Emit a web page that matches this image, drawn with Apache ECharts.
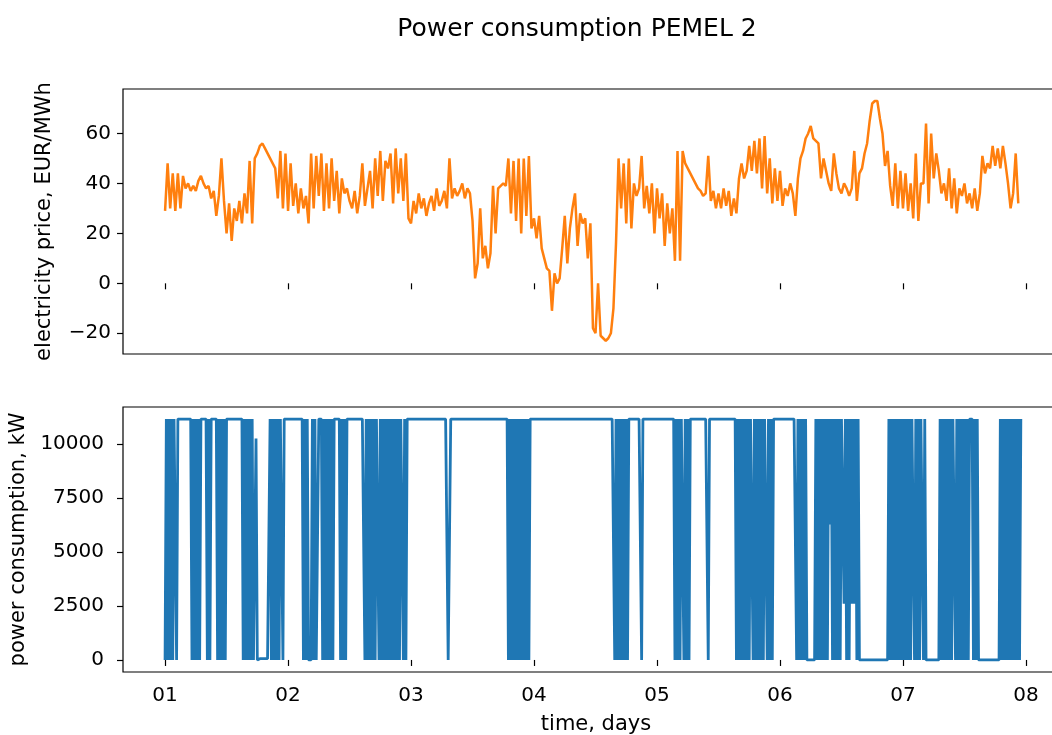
<!DOCTYPE html>
<html>
<head>
<meta charset="utf-8">
<script src="https://cdn.jsdelivr.net/npm/echarts@6/dist/echarts.min.js"></script>
<style>
html,body{margin:0;padding:0;background:#fff;overflow:hidden;width:1052px;height:735px;}
#chart{width:1100px;height:735px;}
</style>
</head>
<body>
<div id="chart"></div>
<script>
// ---- tick labels / categories ----
const dayTicks = [1, 2, 3, 4, 5, 6, 7, 8];
const dayTickLabels = ['01', '02', '03', '04', '05', '06', '07', '08'];
const priceTicks = [-20, 0, 20, 40, 60];
const powerTicks = [0, 2500, 5000, 7500, 10000];

// ---- electricity price, EUR/MWh (30-min values, one array per day) ----
const priceDay1 = [29,48,30,44, 29,44,30,43, 38,40,37,39, 37,41,43,40, 38,39,34,37, 27,35,50,33, 20,32,17,30, 25,33,24,36, 28,49,24,50, 52,55,56,54, 52,50,48,46, 34,53,30,52];
const priceDay2 = [29,48,31,40, 28,38,30,35, 24,52,30,51, 35,52,29,48, 30,50,33,45, 28,42,36,38, 33,30,37,28, 35,48,31,38, 45,30,50,35, 53,33,49,46, 52,32,54,36, 50,33,52,26];
const priceDay3 = [24,33,28,36, 30,34,27,32, 35,29,38,31, 33,37,30,50, 34,38,35,37, 40,34,38,36, 25,2,8,30, 10,15,6,12, 39,20,38,39, 40,39,50,28, 49,25,50,20, 50,27,51,22];
const priceDay4 = [26,18,27,14, 10,6,5,-11, 4,0,2,14, 27,8,22,30, 36,15,28,24, 26,10,24,-18, -20,0,-21,-22, -23,-22,-20,-10, 16,50,30,48, 24,50,22,40, 35,38,51,30, 39,28,40,20];
const priceDay5 = [38,26,36,15, 32,20,30,9, 53,9,53,48, 46,44,42,40, 38,37,35,36, 51,33,37,30, 36,30,38,31, 37,27,34,28, 42,48,42,45, 55,45,57,44, 58,38,59,36, 50,32,46,33];
const priceDay6 = [45,31,38,35, 40,36,27,42, 50,53,58,60, 63,58,57,56, 42,50,45,40, 37,52,44,38, 36,40,38,35, 38,53,33,44, 46,52,56,65, 72,73,73,66, 60,47,53,39, 31,48,30,45];
const priceDay7 = [30,44,29,40, 26,52,25,40, 40,64,32,60, 42,52,45,36, 40,33,46,30, 42,28,38,35, 40,32,36,30, 38,29,36,51, 44,48,46,55, 47,54,46,55, 48,40,30,36, 52,32];

// ---- power consumption (15-min states, one string per day) ----
// '1' = 11150 kW, '0' = 0 kW, 'b' = 10250 kW, 'm' = 6270 kW, 'q' = 2600 kW, 'l' = 60 kW
const powerLevels = {'1': 11150, '0': 0, 'b': 10250, 'm': 6270, 'q': 2600, 'l': 60};
const powerDay1 = '0101010110' + '11111111111' + '01010101' + '1111' + '0101' + '1111' + '01010101' + '111111111111' + '010101010' + '0b0' + 'lllllllll' + '101010101101' + '11';
const powerDay2 = '111111111111' + '0101000101001' + '11' + '0101010101' + '1111' + '010101' + '1111111111111' + '0101010101' + '1010101010' + '1010101011' + '010' + '111';
const powerDay3 = '11111111111111111111111111111' + '00' + '111111111111111111111111111111111111111111111' + '01010101010101010' + '111';
const powerDay4 = '111111111111111111111111111111111111111111111111111111111111111' + '010101010101' + '111111111' + '0' + '11111111111';
const powerDay5 = '11111111111111' + '0101011010101' + '1111111111111' + '0' + '111111111111111111111' + '0101010101' + '0110101010' + '101101010' + '11111';
const powerDay6 = '1111111111111' + '010101010' + '000000' + '1010101010' + '1m' + '101010101' + '1q10101q1q101' + '00000000000000000000000' + '10101010101';
const powerDay7 = '0101010110101011010' + '0000000000' + '10101010101101010101010' + '11101010' + '0000000000000000' + '10101010101010101';

const priceDays = [priceDay1, priceDay2, priceDay3, priceDay4, priceDay5, priceDay6, priceDay7];
const powerDays = [powerDay1, powerDay2, powerDay3, powerDay4, powerDay5, powerDay6, powerDay7];

const priceData = [];
priceDays.forEach((arr, d) => arr.forEach((v, j) => priceData.push([1 + d + j / 48, v])));
const powerData = [];
powerDays.forEach((s, d) => s.split('').forEach((c, k) => powerData.push([1 + d + k / 96, powerLevels[c]])));

const FONT = 'DejaVu Sans';
const TXT = '#000';
const FS = 20;
const X_MIN = 0.658, X_MAX = 8.35;
const fmtNum = v => String(v).replace('-', '\u2212');

function xAxisCfg(idx, showLabels) {
  return {
    type: 'value', gridIndex: idx, min: X_MIN, max: X_MAX,
    axisLine: {show: false},
    splitLine: {show: false},
    axisTick: {show: true, inside: false, length: 6, customValues: dayTicks, lineStyle: {color: '#000', width: 1.2}},
    axisLabel: {show: showLabels, customValues: dayTicks, margin: 14, color: TXT, fontFamily: FONT, fontSize: FS,
      formatter: v => dayTickLabels[dayTicks.indexOf(Math.round(v))] || ''},
    name: showLabels ? 'time, days' : '',
    nameLocation: 'middle', nameGap: 42,
    nameTextStyle: {color: TXT, fontFamily: FONT, fontSize: 21}
  };
}

const option = {
  animation: false,
  backgroundColor: '#fff',
  title: {
    text: 'Power consumption PEMEL 2',
    left: 572, top: 12, textAlign: 'center',
    textStyle: {color: TXT, fontFamily: FONT, fontSize: 25, fontWeight: 'normal'}
  },
  grid: [
    {left: 123, top: 89, width: 946, height: 265, show: true, borderColor: '#000', borderWidth: 1.2, backgroundColor: 'transparent', outerBoundsMode: 'none', containLabel: false},
    {left: 123, top: 407, width: 946, height: 265, show: true, borderColor: '#000', borderWidth: 1.2, backgroundColor: 'transparent', outerBoundsMode: 'none', containLabel: false}
  ],
  xAxis: [xAxisCfg(0, false), xAxisCfg(1, true)],
  yAxis: [
    {
      type: 'value', gridIndex: 0, min: -28.3, max: 77.8,
      axisLine: {show: false}, splitLine: {show: false},
      axisTick: {show: true, length: 6, customValues: priceTicks, lineStyle: {color: '#000', width: 1.2}},
      axisLabel: {customValues: priceTicks, margin: 12, color: TXT, fontFamily: FONT, fontSize: FS, formatter: fmtNum},
      name: 'electricity price, EUR/MWh', nameLocation: 'middle', nameGap: 68,
      nameTextStyle: {color: TXT, fontFamily: FONT, fontSize: 21}
    },
    {
      type: 'value', gridIndex: 1, min: -557, max: 11707,
      axisLine: {show: false}, splitLine: {show: false},
      axisTick: {show: true, length: 6, customValues: powerTicks, lineStyle: {color: '#000', width: 1.2}},
      axisLabel: {customValues: powerTicks, margin: 19, color: TXT, fontFamily: FONT, fontSize: FS, formatter: fmtNum},
      name: 'power consumption, kW', nameLocation: 'middle', nameGap: 90,
      nameTextStyle: {color: TXT, fontFamily: FONT, fontSize: 21}
    }
  ],
  series: [
    {
      type: 'line', xAxisIndex: 0, yAxisIndex: 0, data: priceData,
      showSymbol: false, symbol: 'none', color: '#ff7f0e',
      lineStyle: {color: '#ff7f0e', width: 2.5}
    },
    {
      type: 'line', xAxisIndex: 1, yAxisIndex: 1, data: powerData,
      showSymbol: false, symbol: 'none', color: '#1f77b4',
      lineStyle: {color: '#1f77b4', width: 2.8}
    }
  ]
};

const chart = echarts.init(document.getElementById('chart'), null, {renderer: 'canvas'});
chart.setOption(option);
</script>
</body>
</html>
